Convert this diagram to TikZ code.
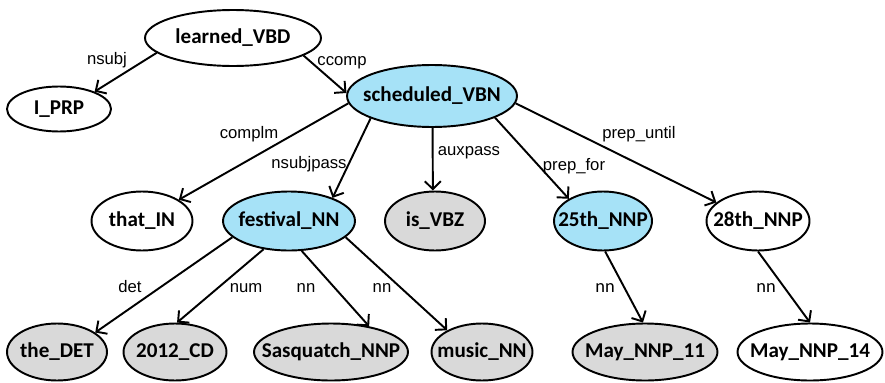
\documentclass[tikz,border=0pt]{standalone}
\usepackage{fontspec}
\setmainfont{Carlito}
\newfontfamily\relfont{Liberation Sans}
\definecolor{HeadFill}{RGB}{166,226,247}
\definecolor{LeafFill}{RGB}{217,217,217}
\usetikzlibrary{shapes.geometric, arrows.meta}
\tikzset{
    token/.style={font=\bfseries\fontsize{12}{14}\selectfont, inner sep=0pt},
    word/.style={
        ellipse, draw=black, line width=1.1pt, inner sep=0pt,
        minimum height=1.18cm, fill=white,
        label={[token]center:#1}
    },
    head word/.style={word=#1, fill=HeadFill},
    leaf word/.style={word=#1, fill=LeafFill},
    dep/.style={line width=1.1pt, -{Straight Barb[length=1.6mm, width=3.2mm]}},
    rel/.style={font=\relfont\fontsize{9.5}{11}\selectfont, anchor=base, inner sep=0pt}
}

\begin{document}
\begin{tikzpicture}[x=0.02cm, y=-0.02cm]
\useasboundingbox (0,0) rectangle (885,382);

% Nodos de la frase.
\node[word=learned\_VBD, minimum width=3.52cm, minimum height=1.12cm] (learned) at (233,38) {};
\node[word=I\_PRP, minimum width=2.08cm, minimum height=0.9cm] (iprp) at (59,109) {};
\node[head word=scheduled\_VBN, minimum width=3.4cm, minimum height=1.24cm] (scheduled) at (432,96) {};

\node[word=that\_IN, minimum width=2.02cm] (that) at (142,221) {};
\node[head word=festival\_NN, minimum width=2.64cm] (festival) at (289,221) {};
\node[leaf word=is\_VBZ, minimum width=2.0cm] (is) at (435,221) {};
\node[head word=25th\_NNP, minimum width=1.96cm] (twentyfifth) at (603,221) {};
\node[word=28th\_NNP, minimum width=2.06cm] (twentyeighth) at (758,221) {};

\node[leaf word=the\_DET, minimum width=2.0cm, minimum height=1.14cm] (the) at (57,352) {};
\node[leaf word=2012\_CD, minimum width=2.06cm, minimum height=1.14cm] (year) at (175,352) {};
\node[leaf word=Sasquatch\_NNP, minimum width=3.08cm, minimum height=1.14cm] (sasquatch) at (331,352) {};
\node[leaf word=music\_NN, minimum width=2.02cm, minimum height=1.14cm] (music) at (482,352) {};
\node[leaf word=May\_NNP\_11, minimum width=2.9cm, minimum height=1.14cm] (mayeleven) at (645,352) {};
\node[word=May\_NNP\_14, minimum width=2.9cm, minimum height=1.14cm] (mayfourteen) at (810,352) {};

% Dependencias.
\draw[dep] (learned.191) -- (iprp.26);
\draw[dep] (learned.346) -- (scheduled.178);
\draw[dep] (scheduled.185) -- (that.30);
\draw[dep] (scheduled.200) -- (festival.28);
\draw[dep] (scheduled.271) -- (is.94);
\draw[dep] (scheduled.341) -- (twentyfifth.147);
\draw[dep] (scheduled.355) -- (twentyeighth.156);
\draw[dep] (festival.196) -- (the.27);
\draw[dep] (festival.228) -- (year.86);
\draw[dep] (festival.293) -- (sasquatch.34);
\draw[dep] (festival.344) -- (music.148);
\draw[dep] (twentyfifth.274) -- (mayeleven.94);
\draw[dep] (twentyeighth.270) -- (mayfourteen.90);

% Etiquetas de las dependencias.
\node[rel] (lnsubj) at (107,64) {nsubj};
\node[rel] (lccomp) at (342,65) {ccomp};
\node[rel] (lcomplm) at (249,138) {complm};
\node[rel] (lnsubjpass) at (309,168) {nsubjpass};
\node[rel] (lauxpass) at (469,155) {auxpass};
\node[rel] (lprepfor) at (574,170) {prep\_for};
\node[rel] (lprepuntil) at (639,138) {prep\_until};
\node[rel] (ldet) at (130,292) {det};
\node[rel] (lnum) at (246,292) {num};
\node[rel] (lnnone) at (306,292) {nn};
\node[rel] (lnntwo) at (382,292) {nn};
\node[rel, font=\fontsize{10.5}{12}\selectfont] (lnnthree) at (605,292) {nn};
\node[rel, font=\fontsize{10.5}{12}\selectfont] (lnnfour) at (766,292) {nn};

\end{tikzpicture}
\end{document}
